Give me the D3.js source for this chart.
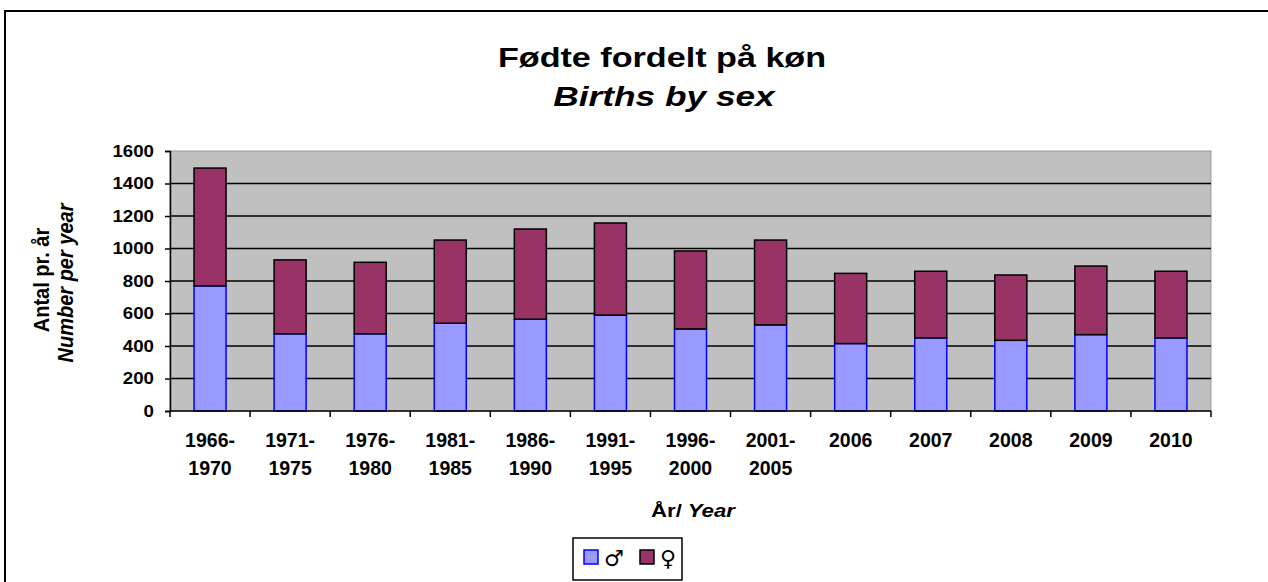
<!DOCTYPE html>
<html>
<head>
<meta charset="utf-8">
<script src="https://cdn.jsdelivr.net/npm/d3@7"></script>
<style>
  body { margin: 0; background: #fff; }
  svg { display: block; font-family: "Liberation Sans", Arial, sans-serif; }
  .axis path, .axis line { stroke: #000; }
  .axis text { font-weight: bold; fill: #000; }
</style>
</head>
<body>
<div id="chart"></div>
<script>
// ----------------------------DATA-------------------------------//
const periods = [
  ['1966-', '1970'], ['1971-', '1975'], ['1976-', '1980'], ['1981-', '1985'],
  ['1986-', '1990'], ['1991-', '1995'], ['1996-', '2000'], ['2001-', '2005'],
  ['2006'], ['2007'], ['2008'], ['2009'], ['2010']
];
const male = [770, 475, 475, 540, 565, 590, 505, 530, 415, 450, 435, 470, 450];
const female = [725, 455, 440, 512, 555, 567, 480, 522, 432, 410, 402, 422, 410];
const yTicks = [0, 200, 400, 600, 800, 1000, 1200, 1400, 1600];

const width = 1268;
const height = 582;
const plot = { left: 170, top: 151, right: 1211, bottom: 411 };
// the original picture is a bit wider than tall, text looks stretched
const stretch = (x, y, sx) => `translate(${x},${y}) scale(${sx},1)`;

const svg = d3.select('#chart').append('svg')
  .attr('width', width)
  .attr('height', height);

// chart frame (runs off the picture to the right and bottom)
svg.append('rect')
  .attr('x', 5).attr('y', 11)
  .attr('width', 1400).attr('height', 700)
  .attr('fill', '#fff')
  .attr('stroke', '#000')
  .attr('stroke-width', 2);

// ----------------------------SCALES-----------------------------//
const keys = periods.map(p => p.join(''));
const x = d3.scaleBand()
  .domain(keys)
  .range([plot.left, plot.right])
  .paddingInner(0.6)
  .paddingOuter(0.3);

const y = d3.scaleLinear()
  .domain([0, 1600])
  .range([plot.bottom, plot.top]);

// plot background
svg.append('rect')
  .attr('x', plot.left).attr('y', plot.top)
  .attr('width', plot.right - plot.left)
  .attr('height', plot.bottom - plot.top)
  .attr('fill', '#c0c0c0')
  .attr('stroke', '#9a9a9a')
  .attr('stroke-width', 1);

// gridlines
svg.append('g')
  .selectAll('line')
  .data(yTicks.filter(d => d > 0 && d < 1600))
  .join('line')
  .attr('x1', plot.left).attr('x2', plot.right)
  .attr('y1', d => y(d)).attr('y2', d => y(d))
  .attr('stroke', '#000')
  .attr('stroke-width', 1.5);

// ----------------------------BARS-------------------------------//
const rows = keys.map((k, i) => ({ key: k, male: male[i], female: female[i] }));
const stacked = d3.stack().keys(['male', 'female'])(rows);
const fills = { male: '#9999ff', female: '#993366' };
const strokes = { male: '#0000ff', female: '#000' };

svg.append('g')
  .selectAll('g')
  .data(stacked)
  .join('g')
  .attr('fill', s => fills[s.key])
  .attr('stroke', s => strokes[s.key])
  .attr('stroke-width', 1.5)
  .selectAll('rect')
  .data(s => s)
  .join('rect')
  .attr('x', d => x(d.data.key))
  .attr('width', x.bandwidth())
  .attr('y', d => y(d[1]))
  .attr('height', d => y(d[0]) - y(d[1]));

// -----------------------------AXES------------------------------//
const yAxis = svg.append('g')
  .attr('class', 'axis')
  .attr('transform', `translate(${plot.left},0)`)
  .call(d3.axisLeft(y).tickValues(yTicks).tickFormat(d3.format('d')).tickSize(5));
yAxis.select('.domain').attr('stroke-width', 1.5);
yAxis.selectAll('.tick line').attr('stroke-width', 1.5);
yAxis.selectAll('text')
  .style('font-size', '17px')
  .attr('x', 0)
  .attr('transform', stretch(-16, 0, 1.1));

// x axis line plus ticks at category borders
svg.append('line')
  .attr('x1', plot.left).attr('x2', plot.right)
  .attr('y1', plot.bottom).attr('y2', plot.bottom)
  .attr('stroke', '#000').attr('stroke-width', 1.5);
svg.append('g')
  .selectAll('line')
  .data(d3.range(keys.length + 1))
  .join('line')
  .attr('x1', i => plot.left + i * x.step())
  .attr('x2', i => plot.left + i * x.step())
  .attr('y1', plot.bottom).attr('y2', plot.bottom + 6)
  .attr('stroke', '#000').attr('stroke-width', 1.5);

const xLabels = svg.append('g')
  .selectAll('text')
  .data(periods)
  .join('text')
  .attr('x', (d, i) => x(keys[i]) + x.bandwidth() / 2)
  .attr('y', 447)
  .attr('text-anchor', 'middle')
  .style('font-size', '19.5px')
  .style('font-weight', 'bold');
xLabels.selectAll('tspan')
  .data(d => d)
  .join('tspan')
  .attr('x', function () { return this.parentNode.getAttribute('x'); })
  .attr('dy', (d, i) => i === 0 ? 0 : 28)
  .text(d => d);

// ----------------------------TITLES-----------------------------//
svg.append('text')
  .attr('transform', stretch(662, 67, 1.22))
  .attr('text-anchor', 'middle')
  .style('font-size', '28px').style('font-weight', 'bold')
  .text('Fødte fordelt på køn');
svg.append('text')
  .attr('transform', stretch(664, 106, 1.26))
  .attr('text-anchor', 'middle')
  .style('font-size', '28px').style('font-weight', 'bold').style('font-style', 'italic')
  .text('Births by sex');

svg.append('text')
  .attr('transform', stretch(49, 280, 1.12) + ' rotate(-90)')
  .attr('text-anchor', 'middle')
  .style('font-size', '20px').style('font-weight', 'bold')
  .text('Antal pr. år');
svg.append('text')
  .attr('transform', stretch(73, 283, 1.12) + ' rotate(-90)')
  .attr('text-anchor', 'middle')
  .style('font-size', '20px').style('font-weight', 'bold').style('font-style', 'italic')
  .text('Number per year');

const xTitle = svg.append('text')
  .attr('transform', stretch(693, 517, 1.2))
  .attr('text-anchor', 'middle')
  .style('font-size', '18.5px').style('font-weight', 'bold');
xTitle.append('tspan').text('År/');
xTitle.append('tspan').style('font-style', 'italic').text(' Year');

// ----------------------------LEGEND-----------------------------//
const legend = svg.append('g').attr('transform', 'translate(573,538)');
legend.append('rect')
  .attr('width', 109).attr('height', 42)
  .attr('fill', '#fff').attr('stroke', '#000').attr('stroke-width', 1.5);
const items = [
  { key: 'male', sign: '♂', x: 11 },
  { key: 'female', sign: '♀', x: 67 }
];
const li = legend.selectAll('g.item')
  .data(items)
  .join('g')
  .attr('class', 'item')
  .attr('transform', d => `translate(${d.x},12)`);
li.append('rect')
  .attr('width', 14).attr('height', 14)
  .attr('fill', d => fills[d.key])
  .attr('stroke', d => strokes[d.key])
  .attr('stroke-width', 1.5);
li.append('text')
  .attr('x', 20).attr('y', 16)
  .style('font-family', '"DejaVu Sans", sans-serif')
  .style('font-size', '22px')
  .style('font-weight', 'normal')
  .text(d => d.sign);
</script>
</body>
</html>
